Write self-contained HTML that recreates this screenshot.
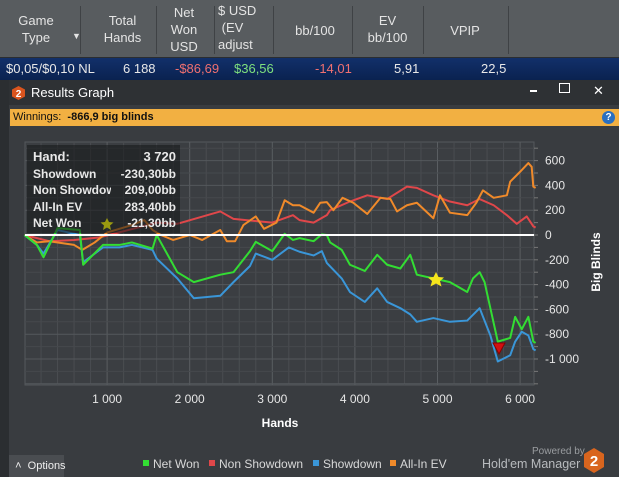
<!DOCTYPE html>
<html><head><meta charset="utf-8"><style>
*{margin:0;padding:0;box-sizing:border-box}
body{width:619px;height:477px;overflow:hidden;background:#2b2e31;font-family:"Liberation Sans",sans-serif;position:relative}
.hdr{position:absolute;left:0;top:0;width:619px;height:57px;background:#585c5f;color:#e4e4e4;font-size:13px}
.hdr div{position:absolute;text-align:center;line-height:17px}
.sep{position:absolute;top:6px;width:1px;height:48px;background:#3f4245}
.row{position:absolute;left:0;top:58px;width:619px;height:22px;background:linear-gradient(#12306a,#0a2250);font-size:13px;line-height:22px}
.row span{position:absolute}
.title{position:absolute;left:9px;top:80px;width:610px;height:25px;background:#2e3134;color:#fff;font-size:13px}
.win{position:absolute;left:9px;top:105px;width:610px;height:372px;background:#393c40}
.bar{position:absolute;left:10px;top:109px;width:609px;height:17px;background:#f2b042;font-size:11px;line-height:17px;color:#111;padding-left:3px}
</style></head><body>
<div class="hdr">
<div style="left:8px;top:12px;width:56px">Game<br>Type</div>
<div style="left:72px;top:28px;font-size:9px">▼</div>
<div class="sep" style="left:80px"></div>
<div style="left:90px;top:12px;width:65px">Total<br>Hands</div>
<div class="sep" style="left:156px"></div>
<div style="left:160px;top:4px;width:48px">Net<br>Won<br>USD</div>
<div class="sep" style="left:214px"></div>
<div style="left:218px;top:2px;width:40px;text-align:left">$ USD<br>&nbsp;(EV<br>adjust</div>
<div class="sep" style="left:273px"></div>
<div style="left:280px;top:22px;width:70px">bb/100</div>
<div class="sep" style="left:352px"></div>
<div style="left:355px;top:12px;width:65px">EV<br>bb/100</div>
<div class="sep" style="left:423px"></div>
<div style="left:430px;top:22px;width:70px">VPIP</div>
<div class="sep" style="left:508px"></div>
</div>
<div class="row">
<span style="left:6px;color:#e8e8e8">$0,05/$0,10 NL</span>
<span style="left:123px;color:#e8e8e8">6 188</span>
<span style="left:175px;color:#f07070">-$86,69</span>
<span style="left:234px;color:#7ee07e">$36,56</span>
<span style="left:315px;color:#f07070">-14,01</span>
<span style="left:394px;color:#e8e8e8">5,91</span>
<span style="left:481px;color:#e8e8e8">22,5</span>
</div>
<div class="title">
<svg style="position:absolute;left:3px;top:6px" width="13" height="14"><polygon points="6.5,0 13,3.5 13,10.5 6.5,14 0,10.5 0,3.5" fill="#d9541e"/><text x="6.5" y="11" fill="#fff" font-size="10" font-weight="bold" text-anchor="middle" font-family="Liberation Sans">2</text></svg>
<span style="position:absolute;left:22px;top:5px">Results Graph</span>
<span style="position:absolute;left:521px;top:10px;width:7px;height:2px;background:#fff"></span>
<span style="position:absolute;left:550px;top:3px;width:11px;height:10px;border:1.5px solid #fff"></span>
<span style="position:absolute;left:584px;top:3px;font-size:13px">✕</span>
</div>
<div class="win"></div>
<div class="bar">Winnings:&nbsp; <b>-866,9 big blinds</b>
<span style="position:absolute;right:4px;top:2px;width:13px;height:13px;border-radius:50%;background:#2a6fc0;color:#fff;font-size:10px;line-height:13px;text-align:center;font-weight:bold">?</span></div>
<svg id="chart" style="position:absolute;left:0;top:0" width="619" height="477"><defs><clipPath id="tipclip"><rect x="27" y="140" width="84" height="100"/></clipPath></defs></svg>
<div style="position:absolute;left:9px;top:455px;width:55px;height:22px;background:#4a4d51;color:#eee;font-size:11px;line-height:22px">&nbsp;&nbsp;˄&nbsp;&nbsp;Options</div>
<div style="position:absolute;left:532px;top:446px;color:#9a9da0;font-size:10px">Powered by</div>
<div style="position:absolute;left:482px;top:457px;color:#b8bbbe;font-size:12.5px">Hold'em Manager</div>
<svg style="position:absolute;left:584px;top:448px" width="20" height="25"><polygon points="10,0 20,6 20,19 10,25 0,19 0,6" fill="#d9651e"/><text x="10" y="18" fill="#fff" font-size="15" font-weight="bold" text-anchor="middle" font-family="Liberation Sans">2</text></svg>
<script>
const xTicks=[1000,2000,3000,4000,5000,6000];
const yTicks=[600,400,200,0,-200,-400,-600,-800,-1000];
const netHands=[0,150,230,400,670,710,950,1150,1300,1550,1600,1850,2050,2370,2530,2730,2800,3000,3150,3250,3330,3500,3600,3660,3700,3840,3940,4120,4270,4390,4550,4670,4750,4950,5150,5360,5430,5510,5570,5640,5730,5880,5940,6020,6100,6160,6188];
const netWon=[0,-80,-180,55,40,-240,-80,-80,-60,-110,0,-300,-380,-320,-300,-130,-55,-130,10,-40,-25,-50,5,0,-60,-120,-240,-290,-160,-240,-270,-160,-320,-350,-380,-460,-350,-300,-380,-590,-860,-830,-660,-760,-660,-860,-870];
const sdHands=[0,150,230,400,670,710,950,1150,1300,1550,1600,1850,2050,2370,2530,2730,2800,3000,3200,3330,3500,3600,3660,3840,3940,4120,4270,4390,4550,4670,4750,4950,5150,5360,5510,5640,5730,5880,5940,6020,6100,6160,6188];
const showdown=[0,-80,-150,40,0,-220,-100,-100,-80,-120,-190,-350,-510,-490,-380,-250,-150,-200,-100,-135,-165,-130,-225,-350,-460,-540,-430,-540,-590,-640,-700,-670,-700,-690,-590,-810,-1020,-970,-860,-780,-810,-920,-930];
const nsdHands=[0,300,600,900,1200,1600,1850,2370,2530,3000,3250,3330,3500,3660,3700,3940,4150,4390,4630,4750,4950,5150,5360,5510,5680,5840,5960,6080,6160,6188];
const nonShowdown=[0,-50,-40,-20,30,100,90,190,130,100,160,120,100,160,200,270,320,290,390,380,320,270,240,290,240,160,90,150,70,60];
const evHands=[0,150,300,600,700,850,1000,1300,1450,1550,1650,1800,2000,2150,2370,2450,2550,2650,2800,2900,3050,3150,3250,3330,3500,3580,3660,3740,3850,3980,4150,4310,4430,4510,4630,4750,4950,5030,5150,5360,5470,5550,5680,5840,5880,6000,6100,6140,6160,6188];
const allInEV=[0,-60,-50,-80,-120,-60,20,80,120,40,0,-40,0,-40,40,-50,-50,80,150,50,100,280,240,240,180,260,265,200,300,260,170,300,290,190,240,260,135,320,180,160,260,360,300,320,430,510,580,550,390,380];
const L=25,R=534,T=142,B=385;
const xs=h=>24.5+h*0.0826;
const ys=v=>235-v*0.124;
const svg=document.getElementById('chart');
const NS='http://www.w3.org/2000/svg';
function mk(t,a,p){const e=document.createElementNS(NS,t);for(const k in a)e.setAttribute(k,a[k]);(p||svg).appendChild(e);return e;}
const bg=mk('rect',{x:L,y:T,width:R-L,height:B-T,fill:'#3b3e42',stroke:'#55595d'});


for(let h=200;h<=6200;h+=200){const x=xs(h);if(x>R)break;const g=mk('line',{x1:x,x2:x,y1:T,y2:B,stroke:h%1000?'#4a4d51':'#5a5e62','stroke-width':1});

}
for(let v=-1200;v<=700;v+=100){const y=ys(v);if(y<T||y>B)continue;const g=mk('line',{x1:L,x2:R,y1:y,y2:y,stroke:v%200?'#46494d':'#54585c','stroke-width':1});


const tk=mk('line',{x1:R,x2:R+4,y1:y,y2:y,stroke:'#777'});

}
xTicks.forEach(h=>{const t=mk('text',{x:xs(h),y:403,fill:'#e6e6e6','font-size':12,'text-anchor':'middle','font-family':'Liberation Sans'});t.textContent=h.toLocaleString('en').replace(',',' ');

});
yTicks.forEach(v=>{const t=mk('text',{x:545,y:ys(v)+4,fill:'#e6e6e6','font-size':12,'font-family':'Liberation Sans'});t.textContent=(v<=-1000?'-1 000':String(v));

});
const xt=mk('text',{x:280,y:427,fill:'#fff','font-size':12,'font-weight':'bold','text-anchor':'middle','font-family':'Liberation Sans'});xt.textContent='Hands';


const yt=mk('text',{x:0,y:0,fill:'#fff','font-size':12,'font-weight':'bold','text-anchor':'middle','font-family':'Liberation Sans',transform:'translate(600,262) rotate(-90)'});yt.textContent='Big Blinds';


function series(hs,vs,col,name){const p=mk('polyline',{points:hs.map((h,i)=>xs(h)+','+ys(vs[i])).join(' '),fill:'none',stroke:col,'stroke-width':2,'stroke-linejoin':'round'});

}
series(nsdHands,nonShowdown,'#e0474a','non-showdown-line');
series(evHands,allInEV,'#f08a2a','all-in-ev-line');
series(sdHands,showdown,'#3a96d8','showdown-line');
series(netHands,netWon,'#33dd33','net-won-line');
const zl=mk('line',{x1:L,x2:R,y1:ys(0),y2:ys(0),stroke:'#fff','stroke-width':2});


const star=mk('polygon',{points:'436,272 438.5,277 444,277.5 440,281 441.5,286.5 436,283.5 430.5,286.5 432,281 428,277.5 433.5,277',fill:'#f5e51c'});


const tri=mk('polygon',{points:'493,343 505,343 499,354',fill:'#d01010',stroke:'#800'});


const tb=mk('rect',{x:27,y:145,width:153,height:88,fill:'rgba(20,22,24,0.55)'});


const tipL=['Hand:','Showdown','Non Showdown','All-In EV','Net Won'];
const tipV=['3 720','-230,30bb','209,00bb','283,40bb','-21,30bb'];
const tipY=[161,178,194,211,227];
tipL.forEach((s,i)=>{const y=tipY[i];const a=mk('text',{x:33,y:y,fill:'#e8e8e8','font-size':i?12:13,'font-weight':'bold','font-family':'Liberation Sans','clip-path':'url(#tipclip)'});a.textContent=s;


const b=mk('text',{x:176,y:y,fill:'#e8e8e8','font-size':i?12:13,'font-weight':'bold','text-anchor':'end','font-family':'Liberation Sans'});b.textContent=tipV[i];

});
const st2=mk('polygon',{points:'107,218 109,222 113.5,222.5 110,225.5 111,230 107,227.5 103,230 104,225.5 100.5,222.5 105,222',fill:'#9a9a10'});


const leg=[['Net Won','#33dd33',143],['Non Showdown','#e0474a',209],['Showdown','#3a96d8',313],['All-In EV','#f08a2a',390]];
leg.forEach(l=>{const r=mk('rect',{x:l[2],y:460,width:6,height:6,fill:l[1]});


const t=mk('text',{x:l[2]+10,y:468,fill:'#d8d8d8','font-size':12,'font-family':'Liberation Sans'});t.textContent=l[0];

});
</script>
</body></html>
